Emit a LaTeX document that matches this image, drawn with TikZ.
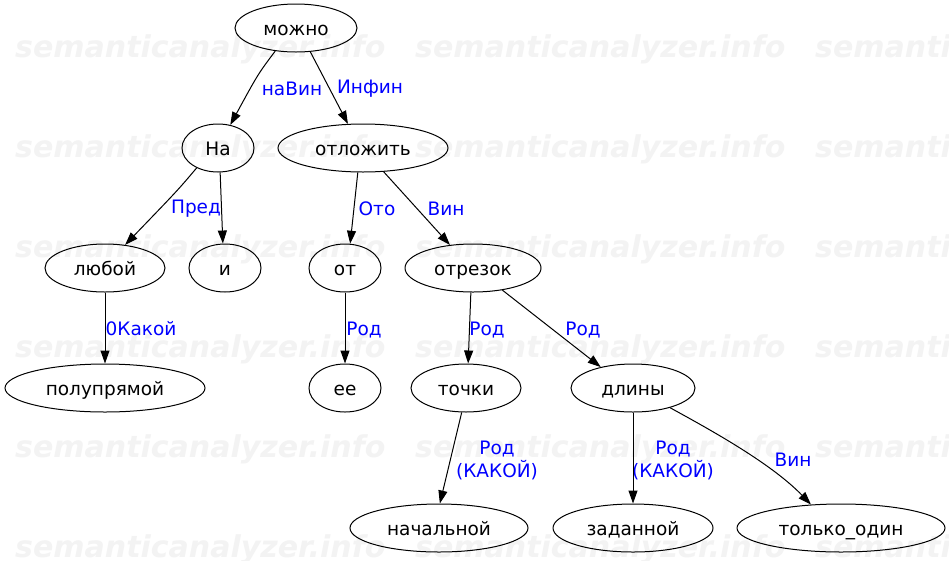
\documentclass[tikz,border=0pt]{standalone}
\usepackage{fontspec}
\setmainfont{DejaVu Sans}
\usetikzlibrary{shapes.geometric,arrows.meta}
\definecolor{lbl}{RGB}{0,0,255}
\definecolor{wm}{RGB}{243,243,243}
\tikzset{
  x=1pt,y=-1pt,
  word/.style={draw=black,line width=1pt,ellipse,inner sep=0pt,minimum height=48pt,text height=14pt,text depth=0pt,font=\fontsize{18.5}{22}\selectfont},
  lab/.style={text=lbl,font=\fontsize{18.5}{23}\selectfont,align=center,inner sep=0pt},
  conn/.style={draw=black,line width=1pt,-{Triangle[length=13pt,width=9pt]}},
  wmark/.style={text=wm,font=\fontsize{30}{30}\selectfont\bfseries\itshape,inner sep=0pt,anchor=west}
}
\begin{document}
\begin{tikzpicture}
\useasboundingbox (0,0) rectangle (949,560);
\fill[white] (0,0) rectangle (949,560);
% watermark
\foreach \r in {0,...,5}{
  \foreach \c in {0,1,2}{
    \node[wmark] (wm\r\c) at (15+400*\c, 49+100*\r) {semanticanalyzer.info};
  }
}
% nodes
\node[word,minimum width=122pt] (mozhno) at (296,28) {можно};
\node[word,minimum width=72pt] (na) at (218,148) {На};
\node[word,minimum width=170pt] (otl) at (363,148) {отложить};
\node[word,minimum width=120pt] (lyuboy) at (105,268) {любой};
\node[word,minimum width=72pt] (i) at (225,268) {и};
\node[word,minimum width=72pt] (ot) at (345,268) {от};
\node[word,minimum width=136pt] (otrezok) at (473,268) {отрезок};
\node[word,minimum width=200pt] (polu) at (105,388) {полупрямой};
\node[word,minimum width=72pt] (ee) at (345,388) {ее};
\node[word,minimum width=110pt] (tochki) at (466,388) {точки};
\node[word,minimum width=124pt] (dliny) at (633,388) {длины};
\node[word,minimum width=178pt] (nach) at (439,528) {начальной};
\node[word,minimum width=160pt] (zad) at (633,528) {заданной};
\node[word,minimum width=208pt] (tolko) at (841,528) {только\_один};
% labels
\node[lab] (l1) at (292,89) {наВин};
\node[lab] (l2) at (370,89) {Инфин};
\node[lab] (l3) at (196,209) {Пред};
\node[lab] (l4) at (377,209) {Ото};
\node[lab] (l5) at (446,209) {Вин};
\node[lab] (l6) at (141,329) {0Какой};
\node[lab] (l7) at (364,330) {Род};
\node[lab] (l8) at (487,330) {Род};
\node[lab] (l9) at (583,330) {Род};
\node[lab] (l10) at (497,460) {Род\\(КАКОЙ)};
\node[lab] (l11) at (673,460) {Род\\(КАКОЙ)};
\node[lab] (l12) at (793,460) {Вин};
% edges
\draw[conn] (mozhno.228) .. controls (258,74) .. (na.62);
\draw[conn] (mozhno.301) -- (otl.122);
\draw[conn] (na.223) .. controls (178,190) .. (lyuboy.49);
\draw[conn] (na.275) -- (i.95);
\draw[conn] (otl.258) -- (ot.78);
\draw[conn] (otl.311) -- (otrezok.135);
\draw[conn] (lyuboy) -- (polu);
\draw[conn] (ot) -- (ee);
\draw[conn] (otrezok.265) -- (tochki.85);
\draw[conn] (otrezok.323) -- (dliny.147);
\draw[conn] (tochki.260) -- (nach.88);
\draw[conn] (dliny) -- (zad);
\draw[conn] (dliny.332) .. controls (705,427) and (770,462) .. (tolko.142);
\end{tikzpicture}
\end{document}
